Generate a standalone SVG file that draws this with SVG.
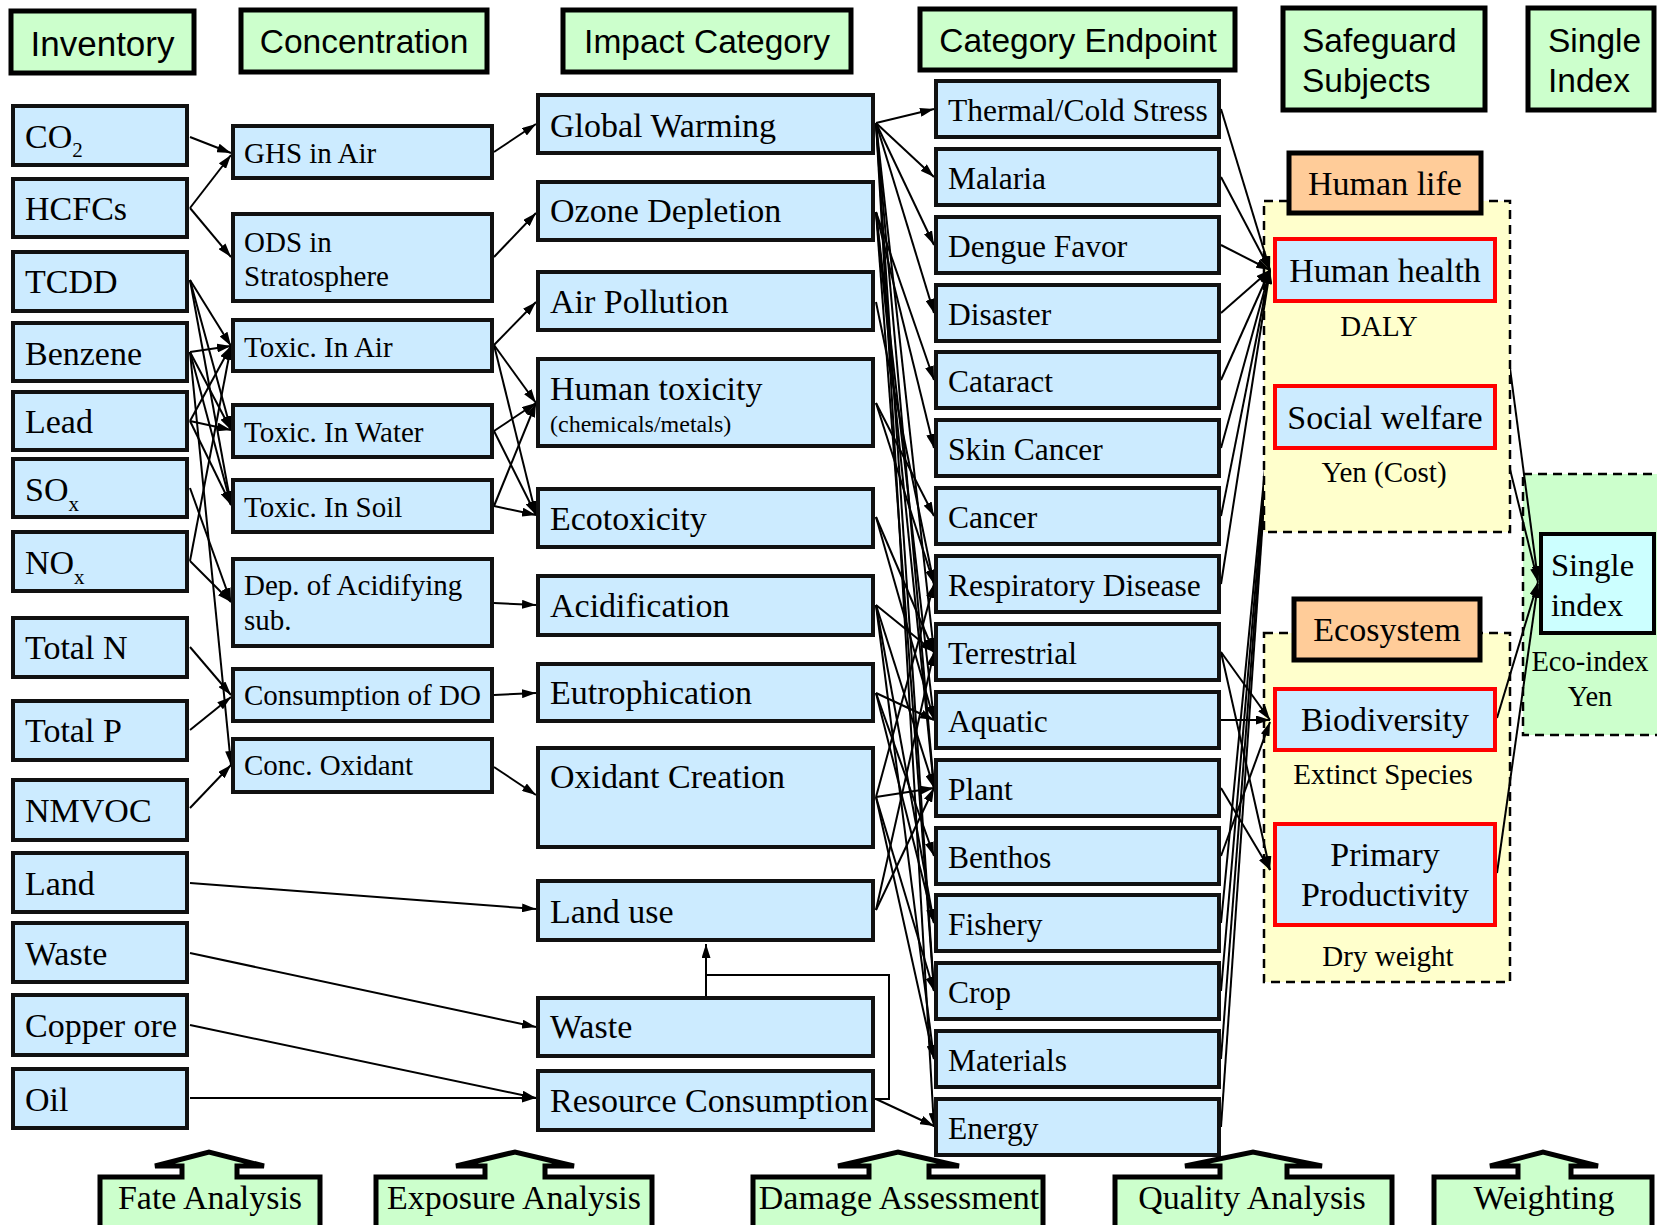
<svg xmlns="http://www.w3.org/2000/svg" width="1657" height="1225" viewBox="0 0 1657 1225">
<defs>
<style>
.hdr{fill:#CCFFCC;stroke:#000;stroke-width:5}
.hs{font-family:"Liberation Sans",Arial,sans-serif;font-size:33.5px;fill:#000}
.bx{fill:#CCEBFF;stroke:#111;stroke-width:4}
.rd{fill:#CCEBFF;stroke:#FF0000;stroke-width:4}
.or{fill:#FFCC99;stroke:#000;stroke-width:5}
.yl{fill:#FFFFCC;stroke:#000;stroke-width:2.5;stroke-dasharray:9,6}
.gd{fill:#CCFFCC;stroke:#000;stroke-width:2.5;stroke-dasharray:9,6}
.cy{fill:#CCFFFF;stroke:#000;stroke-width:4}
.t{font-family:"Liberation Serif","Times New Roman",serif;fill:#000}
.t34{font-size:34px}
.t29{font-size:29px}
.t31{font-size:31.5px}
.t28{font-size:28.5px}
.t24{font-size:24px}
.t32{font-size:32.5px}
.sub{font-size:21px}
.conn line,.conn polyline{stroke:#000;stroke-width:2;fill:none}
.step{fill:#CCFFCC;stroke:#000;stroke-width:5;stroke-linejoin:miter}
</style>
<marker id="a" viewBox="0 0 14 9" refX="14" refY="4.5" markerWidth="14" markerHeight="9" markerUnits="userSpaceOnUse" orient="auto"><path d="M0,0 L14,4.5 L0,9 z" fill="#000"/></marker>
</defs>
<rect width="1657" height="1225" fill="#fff"/>

<g id="single-index-group"><rect class="gd" x="1523" y="474" width="150" height="261"/></g>

<!-- connectors hidden under the Human life group box -->
<g class="conn" id="connectors-under">
<line x1="1221" y1="923" x2="1270" y2="417" marker-end="url(#a)"/>
<line x1="1221" y1="991" x2="1270" y2="417" marker-end="url(#a)"/>
<line x1="1221" y1="1059" x2="1270" y2="417" marker-end="url(#a)"/>
<line x1="1221" y1="1127" x2="1270" y2="417" marker-end="url(#a)"/>
<line x1="1497" y1="270" x2="1538" y2="580" marker-end="url(#a)"/>
<line x1="1497" y1="417" x2="1538" y2="582" marker-end="url(#a)"/>
</g>

<g id="human-life-group"><rect class="yl" x="1264" y="201" width="246" height="331"/></g>
<g id="ecosystem-group"><rect class="yl" x="1264" y="633" width="246" height="349"/></g>

<!-- headers -->
<g id="h-inventory"><rect class="hdr" x="11" y="11" width="183" height="62"/><text class="hs" x="102.5" y="56" text-anchor="middle" style="font-size:35px">Inventory</text></g>
<g id="h-concentration"><rect class="hdr" x="241" y="10" width="246" height="62"/><text class="hs" x="364" y="53" text-anchor="middle">Concentration</text></g>
<g id="h-impact"><rect class="hdr" x="563" y="10" width="288" height="62"/><text class="hs" x="707" y="53" text-anchor="middle">Impact Category</text></g>
<g id="h-endpoint"><rect class="hdr" x="920" y="9" width="315" height="61"/><text class="hs" x="1078" y="52" text-anchor="middle">Category Endpoint</text></g>
<g id="h-safeguard"><rect class="hdr" x="1283" y="8" width="202" height="102"/><text class="hs" x="1302" y="52">Safeguard</text><text class="hs" x="1302" y="92">Subjects</text></g>
<g id="h-single"><rect class="hdr" x="1528" y="8" width="126" height="102"/><text class="hs" x="1548" y="52">Single</text><text class="hs" x="1548" y="92">Index</text></g>

<!-- connectors -->
<g class="conn" id="connectors">
<!-- inventory to concentration -->
<line x1="190" y1="137" x2="231" y2="153" marker-end="url(#a)"/>
<line x1="190" y1="208" x2="231" y2="155" marker-end="url(#a)"/>
<line x1="190" y1="208" x2="231" y2="257" marker-end="url(#a)"/>
<line x1="190" y1="280" x2="231" y2="346" marker-end="url(#a)"/>
<line x1="190" y1="280" x2="231" y2="430" marker-end="url(#a)"/>
<line x1="190" y1="280" x2="231" y2="505" marker-end="url(#a)"/>
<line x1="190" y1="352" x2="231" y2="346" marker-end="url(#a)"/>
<line x1="190" y1="352" x2="231" y2="430" marker-end="url(#a)"/>
<line x1="190" y1="352" x2="231" y2="505" marker-end="url(#a)"/>
<line x1="190" y1="421" x2="231" y2="346" marker-end="url(#a)"/>
<line x1="190" y1="421" x2="231" y2="430" marker-end="url(#a)"/>
<line x1="190" y1="421" x2="231" y2="505" marker-end="url(#a)"/>
<line x1="190" y1="488" x2="231" y2="602" marker-end="url(#a)"/>
<line x1="190" y1="561" x2="231" y2="346" marker-end="url(#a)"/>
<line x1="190" y1="561" x2="231" y2="602" marker-end="url(#a)"/>
<line x1="190" y1="352" x2="231" y2="765" marker-end="url(#a)"/>
<line x1="190" y1="647" x2="231" y2="695" marker-end="url(#a)"/>
<line x1="190" y1="730" x2="231" y2="697" marker-end="url(#a)"/>
<line x1="190" y1="808" x2="231" y2="765" marker-end="url(#a)"/>
<line x1="190" y1="883" x2="536" y2="909" marker-end="url(#a)"/>
<line x1="190" y1="953" x2="536" y2="1027" marker-end="url(#a)"/>
<line x1="190" y1="1025" x2="536" y2="1098" marker-end="url(#a)"/>
<line x1="190" y1="1098" x2="536" y2="1098" marker-end="url(#a)"/>
<!-- concentration to impact -->
<line x1="494" y1="152" x2="536" y2="124" marker-end="url(#a)"/>
<line x1="494" y1="257" x2="536" y2="213" marker-end="url(#a)"/>
<line x1="494" y1="345" x2="536" y2="302" marker-end="url(#a)"/>
<line x1="494" y1="345" x2="536" y2="403" marker-end="url(#a)"/>
<line x1="494" y1="345" x2="536" y2="515" marker-end="url(#a)"/>
<line x1="494" y1="431" x2="536" y2="403" marker-end="url(#a)"/>
<line x1="494" y1="431" x2="536" y2="515" marker-end="url(#a)"/>
<line x1="494" y1="506" x2="536" y2="403" marker-end="url(#a)"/>
<line x1="494" y1="506" x2="536" y2="515" marker-end="url(#a)"/>
<line x1="494" y1="603" x2="536" y2="605" marker-end="url(#a)"/>
<line x1="494" y1="695" x2="536" y2="693" marker-end="url(#a)"/>
<line x1="494" y1="767" x2="536" y2="795" marker-end="url(#a)"/>
<!-- waste/resource to land use -->
<line x1="706" y1="998" x2="706" y2="944" marker-end="url(#a)"/>
<polyline points="875,1099 889,1099 889,975 706,975"/>
<!-- impact to endpoint -->
<line x1="876" y1="123" x2="934" y2="109" marker-end="url(#a)"/>
<line x1="876" y1="123" x2="934" y2="177" marker-end="url(#a)"/>
<line x1="876" y1="123" x2="934" y2="245" marker-end="url(#a)"/>
<line x1="876" y1="123" x2="934" y2="313" marker-end="url(#a)"/>
<line x1="876" y1="123" x2="934" y2="652" marker-end="url(#a)"/>
<line x1="876" y1="123" x2="934" y2="788" marker-end="url(#a)"/>
<line x1="876" y1="123" x2="934" y2="991" marker-end="url(#a)"/>
<line x1="876" y1="123" x2="934" y2="1127" marker-end="url(#a)"/>
<line x1="876" y1="212" x2="934" y2="380" marker-end="url(#a)"/>
<line x1="876" y1="212" x2="934" y2="448" marker-end="url(#a)"/>
<line x1="876" y1="212" x2="934" y2="720" marker-end="url(#a)"/>
<line x1="876" y1="212" x2="934" y2="788" marker-end="url(#a)"/>
<line x1="876" y1="212" x2="934" y2="991" marker-end="url(#a)"/>
<line x1="876" y1="302" x2="934" y2="584" marker-end="url(#a)"/>
<line x1="876" y1="403" x2="934" y2="516" marker-end="url(#a)"/>
<line x1="876" y1="403" x2="934" y2="584" marker-end="url(#a)"/>
<line x1="876" y1="517" x2="934" y2="652" marker-end="url(#a)"/>
<line x1="876" y1="517" x2="934" y2="720" marker-end="url(#a)"/>
<line x1="876" y1="605" x2="934" y2="652" marker-end="url(#a)"/>
<line x1="876" y1="605" x2="934" y2="788" marker-end="url(#a)"/>
<line x1="876" y1="605" x2="934" y2="923" marker-end="url(#a)"/>
<line x1="876" y1="605" x2="934" y2="1059" marker-end="url(#a)"/>
<line x1="876" y1="693" x2="934" y2="720" marker-end="url(#a)"/>
<line x1="876" y1="693" x2="934" y2="856" marker-end="url(#a)"/>
<line x1="876" y1="693" x2="934" y2="923" marker-end="url(#a)"/>
<line x1="876" y1="797" x2="934" y2="584" marker-end="url(#a)"/>
<line x1="876" y1="797" x2="934" y2="788" marker-end="url(#a)"/>
<line x1="876" y1="797" x2="934" y2="991" marker-end="url(#a)"/>
<line x1="876" y1="797" x2="934" y2="1059" marker-end="url(#a)"/>
<line x1="876" y1="910" x2="934" y2="652" marker-end="url(#a)"/>
<line x1="876" y1="910" x2="934" y2="788" marker-end="url(#a)"/>
<line x1="876" y1="1099" x2="934" y2="1126" marker-end="url(#a)"/>
<!-- endpoint to safeguard -->
<line x1="1221" y1="109" x2="1270" y2="270" marker-end="url(#a)"/>
<line x1="1221" y1="177" x2="1270" y2="270" marker-end="url(#a)"/>
<line x1="1221" y1="245" x2="1270" y2="270" marker-end="url(#a)"/>
<line x1="1221" y1="313" x2="1270" y2="270" marker-end="url(#a)"/>
<line x1="1221" y1="380" x2="1270" y2="270" marker-end="url(#a)"/>
<line x1="1221" y1="448" x2="1270" y2="270" marker-end="url(#a)"/>
<line x1="1221" y1="516" x2="1270" y2="270" marker-end="url(#a)"/>
<line x1="1221" y1="584" x2="1270" y2="270" marker-end="url(#a)"/>
<line x1="1221" y1="652" x2="1270" y2="720" marker-end="url(#a)"/>
<line x1="1221" y1="720" x2="1270" y2="720" marker-end="url(#a)"/>
<line x1="1221" y1="856" x2="1270" y2="722" marker-end="url(#a)"/>
<line x1="1221" y1="652" x2="1270" y2="870" marker-end="url(#a)"/>
<line x1="1221" y1="788" x2="1270" y2="870" marker-end="url(#a)"/>
<!-- ecosystem to single index -->
<line x1="1497" y1="718" x2="1538" y2="582" marker-end="url(#a)"/>
<line x1="1497" y1="873" x2="1538" y2="584" marker-end="url(#a)"/>
</g>

<!-- inventory nodes -->
<g id="n-co2"><rect class="bx" x="13" y="106" width="174" height="59"/><text class="t t34" x="25" y="148">CO<tspan class="sub" dy="9">2</tspan></text></g>
<g id="n-hcfcs"><rect class="bx" x="13" y="179" width="174" height="58"/><text class="t t34" x="25" y="220">HCFCs</text></g>
<g id="n-tcdd"><rect class="bx" x="13" y="252" width="174" height="59"/><text class="t t34" x="25" y="293">TCDD</text></g>
<g id="n-benzene"><rect class="bx" x="13" y="323" width="174" height="58"/><text class="t t34" x="25" y="365">Benzene</text></g>
<g id="n-lead"><rect class="bx" x="13" y="392" width="174" height="58"/><text class="t t34" x="25" y="433">Lead</text></g>
<g id="n-sox"><rect class="bx" x="13" y="459" width="174" height="58"/><text class="t t34" x="25" y="501">SO<tspan class="sub" dy="10">x</tspan></text></g>
<g id="n-nox"><rect class="bx" x="13" y="532" width="174" height="59"/><text class="t t34" x="25" y="574">NO<tspan class="sub" dy="10">x</tspan></text></g>
<g id="n-totaln"><rect class="bx" x="13" y="618" width="174" height="59"/><text class="t t34" x="25" y="659">Total N</text></g>
<g id="n-totalp"><rect class="bx" x="13" y="701" width="174" height="59"/><text class="t t34" x="25" y="742">Total P</text></g>
<g id="n-nmvoc"><rect class="bx" x="13" y="780" width="174" height="60"/><text class="t t34" x="25" y="822">NMVOC</text></g>
<g id="n-land"><rect class="bx" x="13" y="853" width="174" height="59"/><text class="t t34" x="25" y="895">Land</text></g>
<g id="n-waste"><rect class="bx" x="13" y="923" width="174" height="59"/><text class="t t34" x="25" y="965">Waste</text></g>
<g id="n-copper"><rect class="bx" x="13" y="995" width="174" height="60"/><text class="t t34" x="25" y="1037">Copper ore</text></g>
<g id="n-oil"><rect class="bx" x="13" y="1069" width="174" height="59"/><text class="t t34" x="25" y="1111">Oil</text></g>

<!-- concentration nodes -->
<g id="c-ghs"><rect class="bx" x="233" y="126" width="259" height="52"/><text class="t t29" x="244" y="163">GHS in Air</text></g>
<g id="c-ods"><rect class="bx" x="233" y="214" width="259" height="87"/><text class="t t29" x="244" y="252">ODS in</text><text class="t t29" x="244" y="286">Stratosphere</text></g>
<g id="c-toxair"><rect class="bx" x="233" y="320" width="259" height="51"/><text class="t t29" x="244" y="357">Toxic. In Air</text></g>
<g id="c-toxwater"><rect class="bx" x="233" y="405" width="259" height="52"/><text class="t t29" x="244" y="442">Toxic. In Water</text></g>
<g id="c-toxsoil"><rect class="bx" x="233" y="480" width="259" height="52"/><text class="t t29" x="244" y="517">Toxic. In Soil</text></g>
<g id="c-dep"><rect class="bx" x="233" y="559" width="259" height="87"/><text class="t t29" x="244" y="595">Dep. of Acidifying</text><text class="t t29" x="244" y="630">sub.</text></g>
<g id="c-do"><rect class="bx" x="233" y="669" width="259" height="52"/><text class="t t29" x="244" y="705">Consumption of DO</text></g>
<g id="c-ox"><rect class="bx" x="233" y="739" width="259" height="53"/><text class="t t29" x="244" y="775">Conc. Oxidant</text></g>

<!-- impact nodes -->
<g id="i-gw"><rect class="bx" x="538" y="95" width="335" height="58"/><text class="t t34" x="550" y="137">Global Warming</text></g>
<g id="i-ozone"><rect class="bx" x="538" y="182" width="335" height="58"/><text class="t t34" x="550" y="222">Ozone Depletion</text></g>
<g id="i-air"><rect class="bx" x="538" y="272" width="335" height="58"/><text class="t t34" x="550" y="313">Air Pollution</text></g>
<g id="i-humantox"><rect class="bx" x="538" y="359" width="335" height="87"/><text class="t t34" x="550" y="400">Human toxicity</text><text class="t t24" x="550" y="432">(chemicals/metals)</text></g>
<g id="i-ecotox"><rect class="bx" x="538" y="489" width="335" height="58"/><text class="t t34" x="550" y="530">Ecotoxicity</text></g>
<g id="i-acid"><rect class="bx" x="538" y="576" width="335" height="59"/><text class="t t34" x="550" y="617">Acidification</text></g>
<g id="i-eutro"><rect class="bx" x="538" y="664" width="335" height="57"/><text class="t t34" x="550" y="704">Eutrophication</text></g>
<g id="i-oxidant"><rect class="bx" x="538" y="748" width="335" height="99"/><text class="t t34" x="550" y="788">Oxidant Creation</text></g>
<g id="i-landuse"><rect class="bx" x="538" y="881" width="335" height="59"/><text class="t t34" x="550" y="923">Land use</text></g>
<g id="i-waste"><rect class="bx" x="538" y="998" width="335" height="58"/><text class="t t34" x="550" y="1038">Waste</text></g>
<g id="i-resource"><rect class="bx" x="538" y="1071" width="335" height="59"/><text class="t t34" x="550" y="1112">Resource Consumption</text></g>

<!-- endpoint nodes -->
<g id="e-thermal"><rect class="bx" x="936" y="81" width="283" height="56"/><text class="t t31" x="948" y="121">Thermal/Cold Stress</text></g>
<g id="e-malaria"><rect class="bx" x="936" y="149" width="283" height="56"/><text class="t t31" x="948" y="189">Malaria</text></g>
<g id="e-dengue"><rect class="bx" x="936" y="217" width="283" height="56"/><text class="t t31" x="948" y="257">Dengue Favor</text></g>
<g id="e-disaster"><rect class="bx" x="936" y="285" width="283" height="56"/><text class="t t31" x="948" y="325">Disaster</text></g>
<g id="e-cataract"><rect class="bx" x="936" y="352" width="283" height="56"/><text class="t t31" x="948" y="392">Cataract</text></g>
<g id="e-skin"><rect class="bx" x="936" y="420" width="283" height="56"/><text class="t t31" x="948" y="460">Skin Cancer</text></g>
<g id="e-cancer"><rect class="bx" x="936" y="488" width="283" height="56"/><text class="t t31" x="948" y="528">Cancer</text></g>
<g id="e-resp"><rect class="bx" x="936" y="556" width="283" height="56"/><text class="t t31" x="948" y="596">Respiratory Disease</text></g>
<g id="e-terr"><rect class="bx" x="936" y="624" width="283" height="56"/><text class="t t31" x="948" y="664">Terrestrial</text></g>
<g id="e-aquatic"><rect class="bx" x="936" y="692" width="283" height="56"/><text class="t t31" x="948" y="732">Aquatic</text></g>
<g id="e-plant"><rect class="bx" x="936" y="760" width="283" height="56"/><text class="t t31" x="948" y="800">Plant</text></g>
<g id="e-benthos"><rect class="bx" x="936" y="828" width="283" height="56"/><text class="t t31" x="948" y="868">Benthos</text></g>
<g id="e-fishery"><rect class="bx" x="936" y="895" width="283" height="56"/><text class="t t31" x="948" y="935">Fishery</text></g>
<g id="e-crop"><rect class="bx" x="936" y="963" width="283" height="56"/><text class="t t31" x="948" y="1003">Crop</text></g>
<g id="e-materials"><rect class="bx" x="936" y="1031" width="283" height="56"/><text class="t t31" x="948" y="1071">Materials</text></g>
<g id="e-energy"><rect class="bx" x="936" y="1099" width="283" height="56"/><text class="t t31" x="948" y="1139">Energy</text></g>

<!-- safeguard nodes -->
<g id="s-humanlife"><rect class="or" x="1289" y="153" width="192" height="60"/><text class="t t34" x="1385" y="195" text-anchor="middle">Human life</text></g>
<g id="s-health"><rect class="rd" x="1275" y="239" width="220" height="62"/><text class="t t34" x="1385" y="282" text-anchor="middle">Human health</text></g>
<text class="t t29" x="1379" y="336" text-anchor="middle">DALY</text>
<g id="s-social"><rect class="rd" x="1275" y="386" width="220" height="62"/><text class="t t34" x="1385" y="429" text-anchor="middle">Social welfare</text></g>
<text class="t t29" x="1384" y="482" text-anchor="middle">Yen (Cost)</text>
<g id="s-ecosystem"><rect class="or" x="1294" y="599" width="186" height="61"/><text class="t t34" x="1387" y="641" text-anchor="middle">Ecosystem</text></g>
<g id="s-biodiv"><rect class="rd" x="1275" y="689" width="220" height="61"/><text class="t t34" x="1385" y="731" text-anchor="middle">Biodiversity</text></g>
<text class="t t29" x="1383" y="784" text-anchor="middle">Extinct Species</text>
<g id="s-primary"><rect class="rd" x="1275" y="824" width="220" height="101"/><text class="t t34" x="1385" y="866" text-anchor="middle">Primary</text><text class="t t34" x="1385" y="906" text-anchor="middle">Productivity</text></g>
<text class="t t29" x="1388" y="966" text-anchor="middle">Dry weight</text>

<!-- single index node -->
<g id="x-single"><rect class="cy" x="1541" y="534" width="113" height="99"/><text class="t t32" x="1551" y="576">Single</text><text class="t t32" x="1551" y="616">index</text></g>
<text class="t t28" x="1590" y="671" text-anchor="middle">Eco-index</text>
<text class="t t28" x="1590" y="706" text-anchor="middle">Yen</text>

<!-- bottom step labels -->
<g id="b-fate"><path class="step" d="M100,1235 V1177 H182 V1166 H155 L209,1152 L264,1166 H237 V1177 H320 V1235"/><text class="t t34" x="210" y="1209" text-anchor="middle">Fate Analysis</text></g>
<g id="b-exposure"><path class="step" d="M376,1235 V1177 H485 V1166 H456 L515,1152 L574,1166 H545 V1177 H652 V1235"/><text class="t t34" x="514" y="1209" text-anchor="middle">Exposure Analysis</text></g>
<g id="b-damage"><path class="step" d="M753,1235 V1177 H869 V1166 H838 L898,1152 L959,1166 H929 V1177 H1043 V1235"/><text class="t t34" x="899" y="1209" text-anchor="middle">Damage Assessment</text></g>
<g id="b-quality"><path class="step" d="M1115,1235 V1177 H1220 V1166 H1185 L1253,1152 L1322,1166 H1287 V1177 H1392 V1235"/><text class="t t34" x="1252" y="1209" text-anchor="middle">Quality Analysis</text></g>
<g id="b-weighting"><path class="step" d="M1434,1235 V1177 H1518 V1166 H1490 L1543,1152 L1598,1166 H1571 V1177 H1652 V1235"/><text class="t t34" x="1544" y="1209" text-anchor="middle">Weighting</text></g>
</svg>
